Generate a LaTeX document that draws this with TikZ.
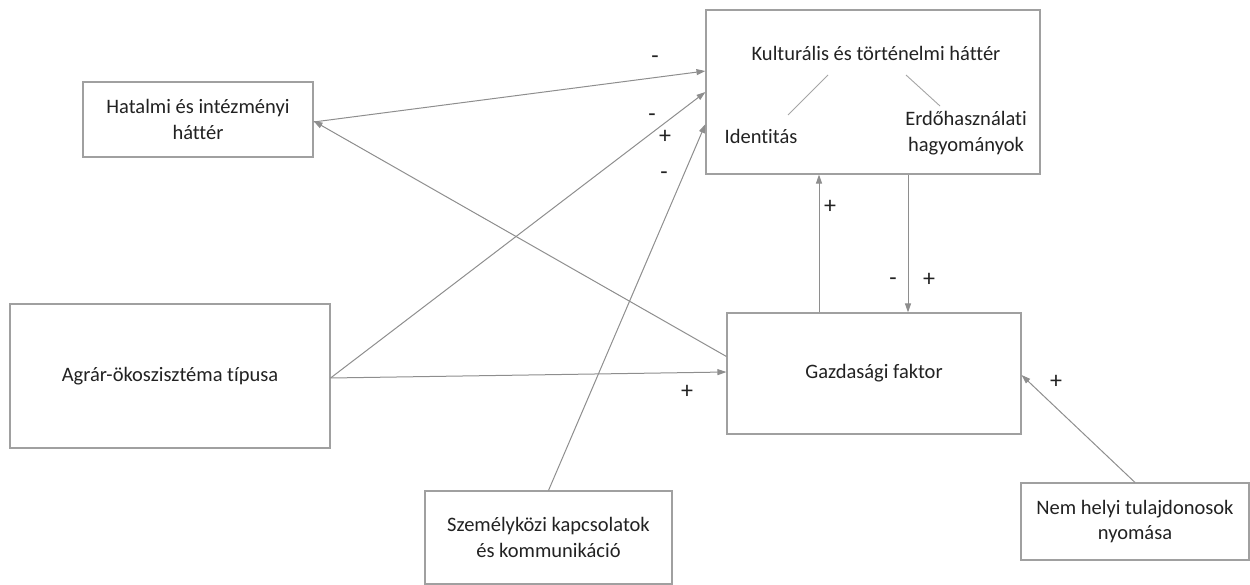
\documentclass[tikz,border=0pt]{standalone}
\usepackage{fontspec}
\setmainfont[Ligatures=NoCommon]{Carlito}
\usetikzlibrary{arrows.meta,calc}
\definecolor{boxline}{HTML}{A0A0A0}
\definecolor{arrline}{HTML}{8E8E8E}
\definecolor{txt}{HTML}{222222}
\tikzset{
  box/.style={draw=boxline, line width=1.1pt, fill=white, inner sep=0pt, align=center, text=txt, font=\fontsize{20.5}{25.5}\selectfont},
  conn/.style={draw=arrline, line width=1pt, -{Triangle[length=9pt,width=6pt]}},
  thin/.style={draw=arrline!80, line width=0.9pt},
  sign/.style={text=txt, font=\fontsize{24}{26}\selectfont, inner sep=0pt},
  lbl/.style={text=txt, font=\fontsize{20.5}{25.5}\selectfont, align=center, inner sep=0pt}
}
\begin{document}
\begin{tikzpicture}[x=1pt,y=-1pt]
\useasboundingbox (0,0) rectangle (1250,585);
% boxes
\node[box, minimum width=230pt, minimum height=75pt] (hat) at (198,119.5) {Hatalmi és intézményi\\háttér};
\node[box, minimum width=334pt, minimum height=164pt] (kult) at (873,92) {};
\node[box, minimum width=320pt, minimum height=144pt] (agr) at (170,376) {Agrár-ökoszisztéma típusa};
\node[box, minimum width=294pt, minimum height=121pt] (gaz) at (874,373.5) {Gazdasági faktor};
\node[box, minimum width=247pt, minimum height=93pt] (szem) at (548.5,537.5) {Személyközi kapcsolatok\\és kommunikáció};
\node[box, minimum width=228pt, minimum height=77pt] (nem) at (1135,521.5) {Nem helyi tulajdonosok\\nyomása};
% inside cultural box
\node[lbl] (kt) at (876,53) {Kulturális és történelmi háttér};
\node[lbl] (idn) at (761,136) {Identitás};
\node[lbl] (erd) at (966,133) {Erdőhasználati\\hagyományok};
\draw[thin] (828,75) -- (788,115);
\draw[thin] (906,75) -- (940,106);
% connectors
\draw[conn] ($(hat.east)+(0,2.5)$) -- ($(kult.west)+(0,-21)$);
\draw[conn] ($(agr.east)+(0,2)$) -- (kult.west);
\draw[conn] (szem.north) -- ($(kult.west)+(0,32)$);
\draw[conn] ($(agr.east)+(0,2)$) -- ($(gaz.west)+(0,-1.5)$);
\draw[conn] ($(gaz.west)+(0,-17)$) -- ($(hat.east)+(0,1.5)$);
\draw[conn] ($(gaz.north)+(-55,0)$) -- ($(kult.south)+(-54,0)$);
\draw[conn] ($(kult.south)+(35,0)$) -- ($(gaz.north)+(34,0)$);
\draw[conn] (nem.north) -- ($(gaz.east)+(0,1.5)$);
% signs
\node[sign] at (655,60) {-};
\node[sign] at (652,118) {-};
\node[sign] at (665,137) {+};
\node[sign] at (664,176) {-};
\node[sign] at (687,392) {+};
\node[sign] at (830,207) {+};
\node[sign] at (893,282) {-};
\node[sign] at (929,280) {+};
\node[sign] at (1056,382) {+};
\end{tikzpicture}
\end{document}
